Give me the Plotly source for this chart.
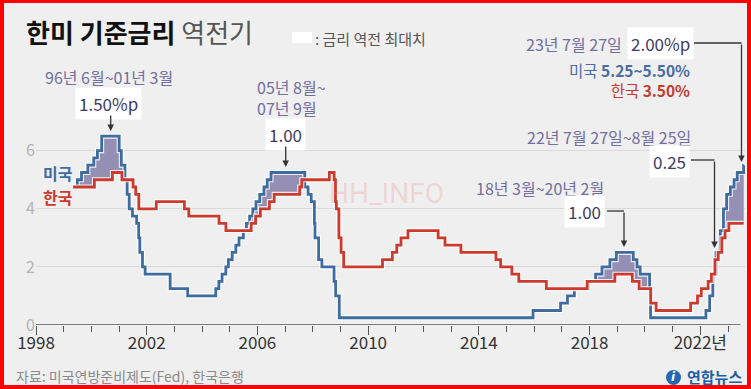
import datetime
import plotly.graph_objects as go

# ---------------- data ----------------
US_DATES = ["1998-11-17", "1999-06-30", "1999-08-24", "1999-11-16", "2000-02-02", "2000-03-21",
            "2000-05-16", "2001-01-03", "2001-01-31", "2001-03-20", "2001-04-18", "2001-05-15",
            "2001-06-27", "2001-08-21", "2001-09-17", "2001-10-02", "2001-11-06", "2001-12-11",
            "2002-11-06", "2003-06-25", "2004-06-30", "2004-08-10", "2004-09-21", "2004-11-10",
            "2004-12-14", "2005-02-02", "2005-03-22", "2005-05-03", "2005-06-30", "2005-08-09",
            "2005-09-20", "2005-11-01", "2005-12-13", "2006-01-31", "2006-03-28", "2006-05-10",
            "2006-06-29", "2007-09-18", "2007-10-31", "2007-12-11", "2008-01-22", "2008-01-30",
            "2008-03-18", "2008-04-30", "2008-10-08", "2008-10-29", "2008-12-16", "2015-12-16",
            "2016-12-14", "2017-03-15", "2017-06-14", "2017-12-13", "2018-03-21", "2018-06-13",
            "2018-09-26", "2018-12-19", "2019-07-31", "2019-09-18", "2019-10-30", "2020-03-03",
            "2020-03-15", "2022-03-16", "2022-05-04", "2022-06-15", "2022-07-27", "2022-09-21",
            "2022-11-02", "2022-12-14", "2023-02-01", "2023-03-22", "2023-05-03", "2023-07-26"]
US_RATES = [4.75, 5.00, 5.25, 5.50, 5.75, 6.00,
            6.50, 6.00, 5.50, 5.00, 4.50, 4.00,
            3.75, 3.50, 3.00, 2.50, 2.00, 1.75,
            1.25, 1.00, 1.25, 1.50, 1.75, 2.00,
            2.25, 2.50, 2.75, 3.00, 3.25, 3.50,
            3.75, 4.00, 4.25, 4.50, 4.75, 5.00,
            5.25, 4.75, 4.50, 4.25, 3.50, 3.00,
            2.25, 2.00, 1.50, 1.00, 0.25, 0.50,
            0.75, 1.00, 1.25, 1.50, 1.75, 2.00,
            2.25, 2.50, 2.25, 2.00, 1.75, 1.25,
            0.25, 0.50, 1.00, 1.75, 2.50, 3.25,
            4.00, 4.50, 4.75, 5.00, 5.25, 5.50]

KR_DATES = ["1999-05-06", "2000-02-10", "2000-10-05", "2001-02-08", "2001-07-05", "2001-08-09",
            "2001-09-19", "2002-05-07", "2003-05-13", "2003-07-10", "2004-08-12", "2004-11-11",
            "2005-10-11", "2005-12-08", "2006-02-09", "2006-06-08", "2006-08-10", "2007-07-12",
            "2007-08-09", "2008-08-07", "2008-10-09", "2008-10-27", "2008-11-07", "2008-12-11",
            "2009-01-09", "2009-02-12", "2010-07-09", "2010-11-16", "2011-01-13", "2011-03-10",
            "2011-06-10", "2012-07-12", "2012-10-11", "2013-05-09", "2014-08-14", "2014-10-15",
            "2015-03-12", "2015-06-11", "2016-06-09", "2017-11-30", "2018-11-30", "2019-07-18",
            "2019-10-16", "2020-03-17", "2020-05-28", "2021-08-26", "2021-11-25", "2022-01-14",
            "2022-04-14", "2022-05-26", "2022-07-13", "2022-08-25", "2022-10-12", "2022-11-24",
            "2023-01-13"]
KR_RATES = [4.75, 5.00, 5.25, 5.00, 4.75, 4.50,
            4.00, 4.25, 4.00, 3.75, 3.50, 3.25,
            3.50, 3.75, 4.00, 4.25, 4.50, 4.75,
            5.00, 5.25, 5.00, 4.25, 4.00, 3.00,
            2.50, 2.00, 2.25, 2.50, 2.75, 3.00,
            3.25, 3.00, 2.75, 2.50, 2.25, 2.00,
            1.75, 1.50, 1.25, 1.50, 1.75, 1.50,
            1.25, 0.75, 0.50, 0.75, 1.00, 1.25,
            1.50, 1.75, 2.25, 2.50, 3.00, 3.25,
            3.50]

START_DATE = "1999-05-06"
END_DATE = "2023-07-27"

X_TICK_VALS = [1998, 2002, 2006, 2010, 2014, 2018, 2022]
X_TICK_TEXT = ["1998", "2002", "2006", "2010", "2014", "2018", "2022년"]
Y_TICK_VALS = [0, 2, 4, 6]


# ---------------- helpers ----------------
def dec(s):
    y, m, d = map(int, s.split("-"))
    dt = datetime.date(y, m, d)
    n = (datetime.date(y + 1, 1, 1) - datetime.date(y, 1, 1)).days
    return y + (dt - datetime.date(y, 1, 1)).days / n


def step_value(dates, rates, t):
    v = rates[0]
    for d, r in zip(dates, rates):
        if dec(d) <= t + 1e-9:
            v = r
    return v


t0, t1 = dec(START_DATE), dec(END_DATE)
grid = sorted(set([t0, t1] + [dec(d) for d in US_DATES + KR_DATES if t0 <= dec(d) <= t1]))
us_v = [step_value(US_DATES, US_RATES, t) for t in grid]
kr_v = [step_value(KR_DATES, KR_RATES, t) for t in grid]
up_v = [max(a, b) for a, b in zip(us_v, kr_v)]

W, H = 751, 389
L, R, T, B = 36, 6, 107, 64
PW, PH = W - L - R, H - T - B
X0 = 1998
X1 = X0 + PW / 27.68
Y1 = PH / 29.05


def xp(px):
    return (px - L) / PW


def yp(py):
    return (H - B - py) / PH


KFONT = "Noto Sans CJK KR"
BLUE = "#3f6c9f"
RED = "#cc3a2e"
PURPLE = "#726ea0"
BOXTXT = "#3d3a63"
FILL = "#968fb4"
BG = "#efefef"

fig = go.Figure()
fig.add_trace(go.Scatter(x=grid, y=kr_v, mode="lines", line=dict(width=0, shape="hv"),
                         hoverinfo="skip", showlegend=False))
fig.add_trace(go.Scatter(x=grid, y=up_v, mode="lines", line=dict(width=0, shape="hv"),
                         fill="tonexty", fillcolor=FILL, hoverinfo="skip", showlegend=False))
fig.add_trace(go.Scatter(x=grid, y=us_v, mode="lines", line=dict(width=5, shape="hv", color="rgba(255,255,255,0.85)"),
                         hoverinfo="skip", showlegend=False))
fig.add_trace(go.Scatter(x=grid, y=us_v, mode="lines", line=dict(width=2.8, shape="hv", color=BLUE),
                         name="미국", showlegend=False))
fig.add_trace(go.Scatter(x=grid, y=kr_v, mode="lines", line=dict(width=5, shape="hv", color="rgba(255,255,255,0.85)"),
                         hoverinfo="skip", showlegend=False))
fig.add_trace(go.Scatter(x=grid, y=kr_v, mode="lines", line=dict(width=2.8, shape="hv", color=RED),
                         name="한국", showlegend=False))

shapes = []
# x axis line
shapes.append(dict(type="line", xref="x", yref="y", x0=X0, x1=2023.45, y0=0, y1=0,
                   line=dict(color="#555555", width=1.3), layer="above"))
# legend swatch
shapes.append(dict(type="rect", xref="paper", yref="paper", x0=xp(292), x1=xp(312), y0=yp(43), y1=yp(32),
                   fillcolor="white", line=dict(width=0)))
# elbow connectors
for (xa, xb, yy) in [(607, 624, 211), (691, 714.5, 160), (694, 741.5, 43)]:
    shapes.append(dict(type="line", xref="paper", yref="paper", x0=xp(xa), x1=xp(xb), y0=yp(yy), y1=yp(yy),
                       line=dict(color="#333333", width=1.3)))
# logo icon
shapes.append(dict(type="circle", xref="paper", yref="paper", x0=xp(666), x1=xp(681), y0=yp(385), y1=yp(370),
                   fillcolor="#2268b4", line=dict(width=0)))
# red frame
for (a, b, c, d) in [(0, 4, 0, H), (747, W, 0, H), (0, W, 0, 3), (0, W, 385, H)]:
    shapes.append(dict(type="rect", xref="paper", yref="paper", x0=xp(a), x1=xp(b), y0=yp(d), y1=yp(c),
                       fillcolor="#ff0000", line=dict(width=0), layer="above"))

ann = []


def text(px, py, s, size, color, xanchor="left", bg=None, family=KFONT, pad=2, align=None):
    d = dict(xref="paper", yref="paper", x=xp(px), y=yp(py), text=s, showarrow=False,
             xanchor=xanchor, yanchor="middle", font=dict(family=family, size=size, color=color))
    if bg:
        d.update(bgcolor=bg, borderpad=pad)
    if align:
        d.update(align=align)
    ann.append(d)


def arrow(px, py_tail, py_tip):
    ann.append(dict(xref="paper", yref="paper", x=xp(px), y=yp(py_tip), ax=0, ay=py_tail - py_tip,
                    axref="pixel", ayref="pixel", text="", showarrow=True, arrowhead=2, arrowsize=1,
                    arrowwidth=1.3, arrowcolor="#333333"))


text(24, 32, "<b>한미 기준금리</b> <span style='color:#555555'>역전기</span>", 26, "#111111")
text(313, 38, ": 금리 역전 최대치", 15, "#555555")

text(109, 77, "96년 6월~01년 3월", 16, PURPLE, "center")
text(108, 103, "1.50%p", 17, BOXTXT, "center", bg="white", pad=3)
arrow(110.7, 114, 131)

text(255, 98, "05년 8월~<br>07년 9월", 16, PURPLE, "left", align="left")
text(285.5, 134, "1.00", 17, BOXTXT, "center", bg="white", pad=3)
arrow(285.7, 145, 167)

text(606, 188, "18년 3월~20년 2월", 16, PURPLE, "right")
text(584.5, 211, "1.00", 17, BOXTXT, "center", bg="white", pad=3)
arrow(624, 211, 247)

text(693, 137, "22년 7월 27일~8월 25일", 16, PURPLE, "right")
text(669, 161, "0.25", 17, BOXTXT, "center", bg="white", pad=3)
arrow(714.5, 160, 248)

text(624, 44, "23년 7월 27일", 16, PURPLE, "right")
text(660.5, 43, "2.00%p", 17, BOXTXT, "center", bg="white", pad=3)
arrow(741.5, 43, 162)

text(692, 79.5, "<span style='color:#4a6d9e'>미국 <b>5.25~5.50%</b></span><br>"
               "<span style='color:#c33c30'>한국 <b>3.50%</b></span>", 15.5, "#4a6d9e", "right", align="right")

text(41, 173, "<b>미국</b>", 16, BLUE, "left")
text(41, 197, "<b>한국</b>", 16, RED, "left")

text(386, 193, "HH_INFO", 28, "rgba(235,120,120,0.22)", "center", family="Roboto")

text(14, 376, "자료: 미국연방준비제도(Fed), 한국은행", 14, "#8a8a8a", "left")
text(673.5, 377, "<b><i>i</i></b>", 12, "white", "center", family="DejaVu Sans")
text(685, 376, "<b>연합뉴스</b>", 15, "#1d5ea8", "left")

fig.update_layout(
    width=W, height=H,
    margin=dict(l=L, r=R, t=T, b=B, pad=0),
    paper_bgcolor=BG, plot_bgcolor=BG,
    showlegend=False,
    shapes=shapes, annotations=ann,
    xaxis=dict(range=[X0, X1], tickmode="array", tickvals=X_TICK_VALS, ticktext=X_TICK_TEXT,
               ticks="outside", ticklen=9, tickwidth=1.2, tickcolor="#555555", ticklabelstandoff=-6,
               minor=dict(dtick=1, tick0=1998, ticks="outside", ticklen=6, tickwidth=1.1, tickcolor="#555555", showgrid=False),
               showgrid=False, zeroline=False, showline=False,
               tickfont=dict(family=KFONT, size=17, color="#333333"), fixedrange=True),
    yaxis=dict(range=[0, Y1], tickmode="array", tickvals=Y_TICK_VALS, ticks="",
               showgrid=True, gridcolor="#d9d9d9", gridwidth=1, zeroline=False, showline=False,
               tickfont=dict(family=KFONT, size=16, color="#b3b3b3"), fixedrange=True),
)

fig.write_html("out.html", config={"displayModeBar": False},
               post_script="document.body.style.margin='0';document.body.style.overflow='hidden';")
